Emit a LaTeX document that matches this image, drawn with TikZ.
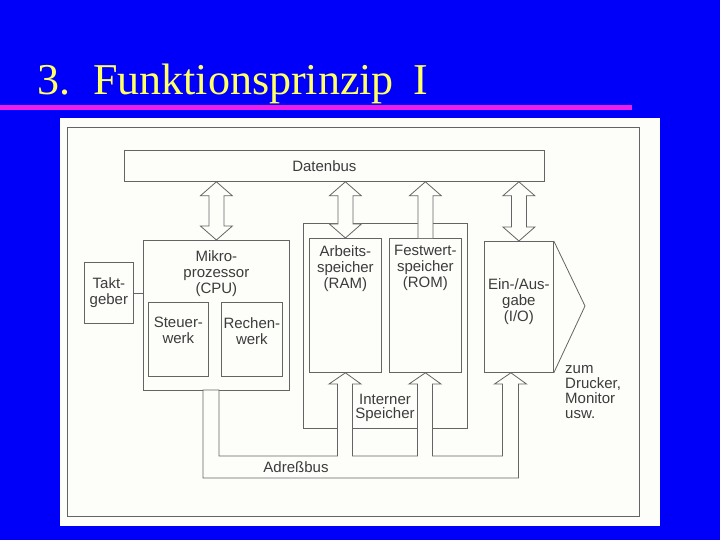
\documentclass[tikz,border=0pt]{standalone}
\usepackage{fontspec}
\setmainfont{Liberation Sans}
\newfontfamily\titlefont{Liberation Serif}
\usetikzlibrary{positioning,calc}

\definecolor{slideblue}{RGB}{0,0,250}
\definecolor{titleyellow}{RGB}{255,255,102}
\definecolor{rulemagenta}{RGB}{235,30,235}
\definecolor{ink}{RGB}{100,100,100}
\definecolor{txtgray}{RGB}{60,60,60}
\definecolor{paper}{RGB}{253,253,250}

% hollow two-way bus arrow: #1 lower end, #2 upper end
\newcommand{\twoway}[2]{%
  \draw[fat] let \p1=(#1), \p2=(#2) in
    (\x1,\y1) -- (\x1-16pt,\y1+14pt) -- (\x1-7.5pt,\y1+14pt) -- (\x1-7.5pt,\y2-14pt)
    -- (\x1-16pt,\y2-14pt) -- (\x1,\y2) -- (\x1+16pt,\y2-14pt) -- (\x1+7.5pt,\y2-14pt)
    -- (\x1+7.5pt,\y1+14pt) -- (\x1+16pt,\y1+14pt) -- cycle;}

\begin{document}
\begin{tikzpicture}[
  x=1pt, y=-1pt,
  box/.style={draw=ink, line width=0.8pt, anchor=north west, inner sep=0pt, align=center,
    font=\fontsize{15}{16}\selectfont, text=txtgray},
  txt/.style={font=\fontsize{15}{16}\selectfont, text=txtgray, align=center, inner sep=0pt},
  fat/.style={draw=ink, line width=0.8pt, fill=paper, line join=miter},
  wire/.style={draw=ink, line width=0.8pt}
]
  % slide background and title
  \fill[slideblue] (0,0) rectangle (720,540);
  \useasboundingbox (0,0) rectangle (720,540);
  \node[anchor=base west, inner sep=0pt, text=titleyellow, font=\titlefont\fontsize{44}{48}\selectfont]
    (title) at (37,95) {3.\hspace{23pt}Funktionsprinzip\hspace{20pt}I};
  \fill[rulemagenta] (0,105) rectangle (632,110);
  \fill[paper] (60,118) rectangle (660,526);
  \draw[ink, line width=0.6pt] (67,127) rectangle (639,516);

  % boxes
  \node[box, minimum width=420pt, minimum height=31pt] (bus) at (124,150) {Datenbus\hspace*{20pt}};
  \node[box, minimum width=49pt, minimum height=61pt] (takt) at (84,262) {Takt-\\geber};
  \node[box, minimum width=146pt, minimum height=150pt] (cpu) at (143,240) {};
  \node[txt, below=10pt of cpu.north] (cpulbl) {Mikro-\\prozessor\\(CPU)};
  \node[box, minimum width=60pt, minimum height=74pt] (steuer) at (148,302) {};
  \node[txt, below=15pt of steuer.north] (steuerlbl) {Steuer-\\werk};
  \node[box, minimum width=61pt, minimum height=74pt] (rechen) at (221,302) {};
  \node[txt, below=15pt of rechen.north] (rechenlbl) {Rechen-\\werk};

  \node[box, minimum width=164pt, minimum height=205pt] (mem) at (303,223) {};
  \node[box, minimum width=72pt, minimum height=134pt] (ram) at (309,238) {};
  \node[txt, below=7pt of ram.north] (ramlbl) {Arbeits-\\speicher\\(RAM)};
  \node[box, minimum width=72pt, minimum height=134pt] (rom) at (389,238) {};
  \node[txt, below=7pt of rom.north] (romlbl) {Festwert-\\speicher\\(ROM)};
  \node[txt, font=\fontsize{15}{14.5}\selectfont] (memlbl) at (385,408) {Interner\\Speicher};

  \node[box, minimum width=69pt, minimum height=131pt] (io) at (484,241) {};
  \node[txt, below=37pt of io.north] (iolbl) {Ein-/Aus-\\gabe\\(I/O)};
  \coordinate (iotip) at (585,306);
  \draw[wire] (io.north east) -- (iotip) -- (io.south east);
  \node[txt, align=left, anchor=north west, font=\fontsize{15}{15}\selectfont]
    (out) at (565,365) {zum\\Drucker,\\Monitor\\usw.};

  \draw[wire] (takt.east) -- (cpu.west |- takt.east);

  % data bus arrows
  \twoway{cpu.north}{bus.south -| cpu.north}
  \twoway{ram.north}{bus.south -| ram.north}
  \twoway{io.north}{bus.south -| io.north}
  \draw[fat] let \p1=(rom.north), \p2=(bus.south -| rom.north) in
    (\x1-7.5pt,\y1) -- (\x1-7.5pt,\y2-14pt) -- (\x1-16pt,\y2-14pt) -- (\x2,\y2)
    -- (\x1+16pt,\y2-14pt) -- (\x1+7.5pt,\y2-14pt) -- (\x1+7.5pt,\y1);

  % address bus
  \coordinate (iohead) at ($(io.south)+(-8,0)$);
  \draw[fat] (219,390) -- (219,456) -- (337.5,456) -- (337.5,384) -- (329,384) -- (ram.south)
    -- (361,384) -- (352.5,384) -- (352.5,456) -- (417.5,456) -- (417.5,384) -- (409,384)
    -- (rom.south) -- (441,384) -- (432.5,384) -- (432.5,456) -- (502.5,456) -- (502.5,384)
    -- (494.5,384) -- (iohead) -- (526.5,384) -- (518.5,384) -- (518.5,478) -- (203,478)
    -- (203,390) -- cycle;
  \node[txt] (adr) at (296,467) {Adreßbus};
\end{tikzpicture}
\end{document}
